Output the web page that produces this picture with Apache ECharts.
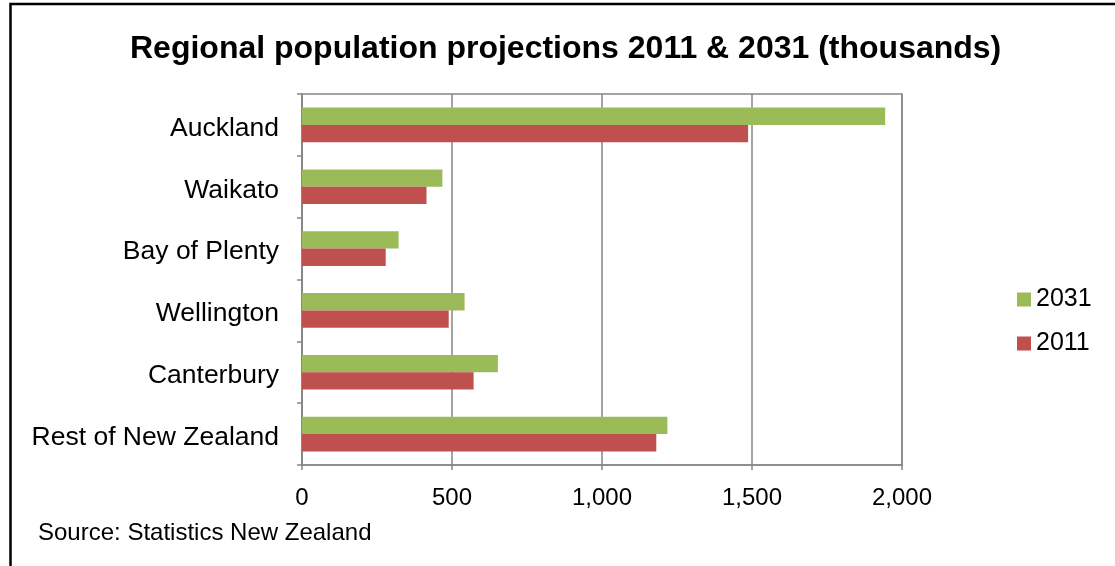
<!DOCTYPE html>
<html>
<head>
<meta charset="utf-8">
<script src="https://cdn.jsdelivr.net/npm/echarts@6/dist/echarts.min.js"></script>
<style>
  html, body { margin: 0; padding: 0; background: #fff; }
  #chart { width: 1115px; height: 566px; }
</style>
</head>
<body>
<div id="chart"></div>
<script>
// Regions, listed top to bottom
const regions = ['Auckland', 'Waikato', 'Bay of Plenty', 'Wellington', 'Canterbury', 'Rest of New Zealand'];
// Projected population, thousands
const pop2031 = [1944, 468, 322, 542, 653, 1218];
const pop2011 = [1487, 415, 279, 489, 572, 1181];
const seriesNames = ['2031', '2011'];
const xTicks = { min: 0, max: 2000, interval: 500 };

const FONT = 'Liberation Sans, Arial, sans-serif';
const GRID = '#868686';

const chart = echarts.init(document.getElementById('chart'), null, { renderer: 'canvas' });

chart.setOption({
  backgroundColor: '#ffffff',
  animation: false,
  title: {
    text: 'Regional population projections 2011 & 2031 (thousands)',
    left: 125,
    top: 28,
    textStyle: { fontFamily: FONT, fontSize: 32, fontWeight: 'bold', color: '#000' }
  },
  legend: {
    orient: 'vertical',
    left: 1012,
    top: 282,
    itemWidth: 14,
    itemHeight: 14,
    itemGap: 19,
    icon: 'rect',
    data: seriesNames,
    textStyle: { fontFamily: FONT, fontSize: 25, color: '#000', lineHeight: 25 }
  },
  grid: {
    left: 302,
    right: 213,
    top: 94,
    bottom: 101,
    show: true,
    borderColor: GRID,
    borderWidth: 1.5
  },
  xAxis: {
    type: 'value',
    min: xTicks.min,
    max: xTicks.max,
    interval: xTicks.interval,
    axisLine: { show: true, lineStyle: { color: GRID, width: 1.5 } },
    axisTick: { show: true, length: 5, lineStyle: { color: GRID, width: 1.5 } },
    splitLine: { show: true, lineStyle: { color: GRID, width: 1.5 } },
    axisLabel: {
      margin: 21,
      fontFamily: FONT,
      fontSize: 24,
      color: '#000',
      formatter: v => v.toLocaleString('en-US')
    }
  },
  yAxis: {
    type: 'category',
    inverse: true,
    data: regions,
    axisLine: { show: true, lineStyle: { color: GRID, width: 1.5 } },
    axisTick: { show: true, length: 5, lineStyle: { color: GRID, width: 1.5 } },
    axisLabel: {
      margin: 23,
      color: '#000',
      // a thin spacer line above each name nudges it slightly downward
      formatter: v => '{s| }\n{a|' + v + '}',
      rich: {
        s: { fontSize: 1, lineHeight: 7 },
        a: { fontFamily: FONT, fontSize: 26.5, lineHeight: 30, color: '#000' }
      }
    }
  },
  series: [
    {
      name: seriesNames[0],
      type: 'bar',
      data: pop2031,
      barGap: '0%',
      barCategoryGap: '44%',
      itemStyle: { color: '#9BBB59' }
    },
    {
      name: seriesNames[1],
      type: 'bar',
      data: pop2011,
      barGap: '0%',
      barCategoryGap: '44%',
      itemStyle: { color: '#C0504D' }
    }
  ],
  graphic: [
    {
      type: 'rect',
      shape: { x: 10.5, y: 4, width: 2000, height: 2000 },
      style: { fill: 'none', stroke: '#000', lineWidth: 2.5 },
      silent: true
    },
    {
      type: 'text',
      left: 38,
      top: 521,
      style: { text: 'Source: Statistics New Zealand', font: '24px ' + FONT, fill: '#000' }
    }
  ]
});
</script>
</body>
</html>
